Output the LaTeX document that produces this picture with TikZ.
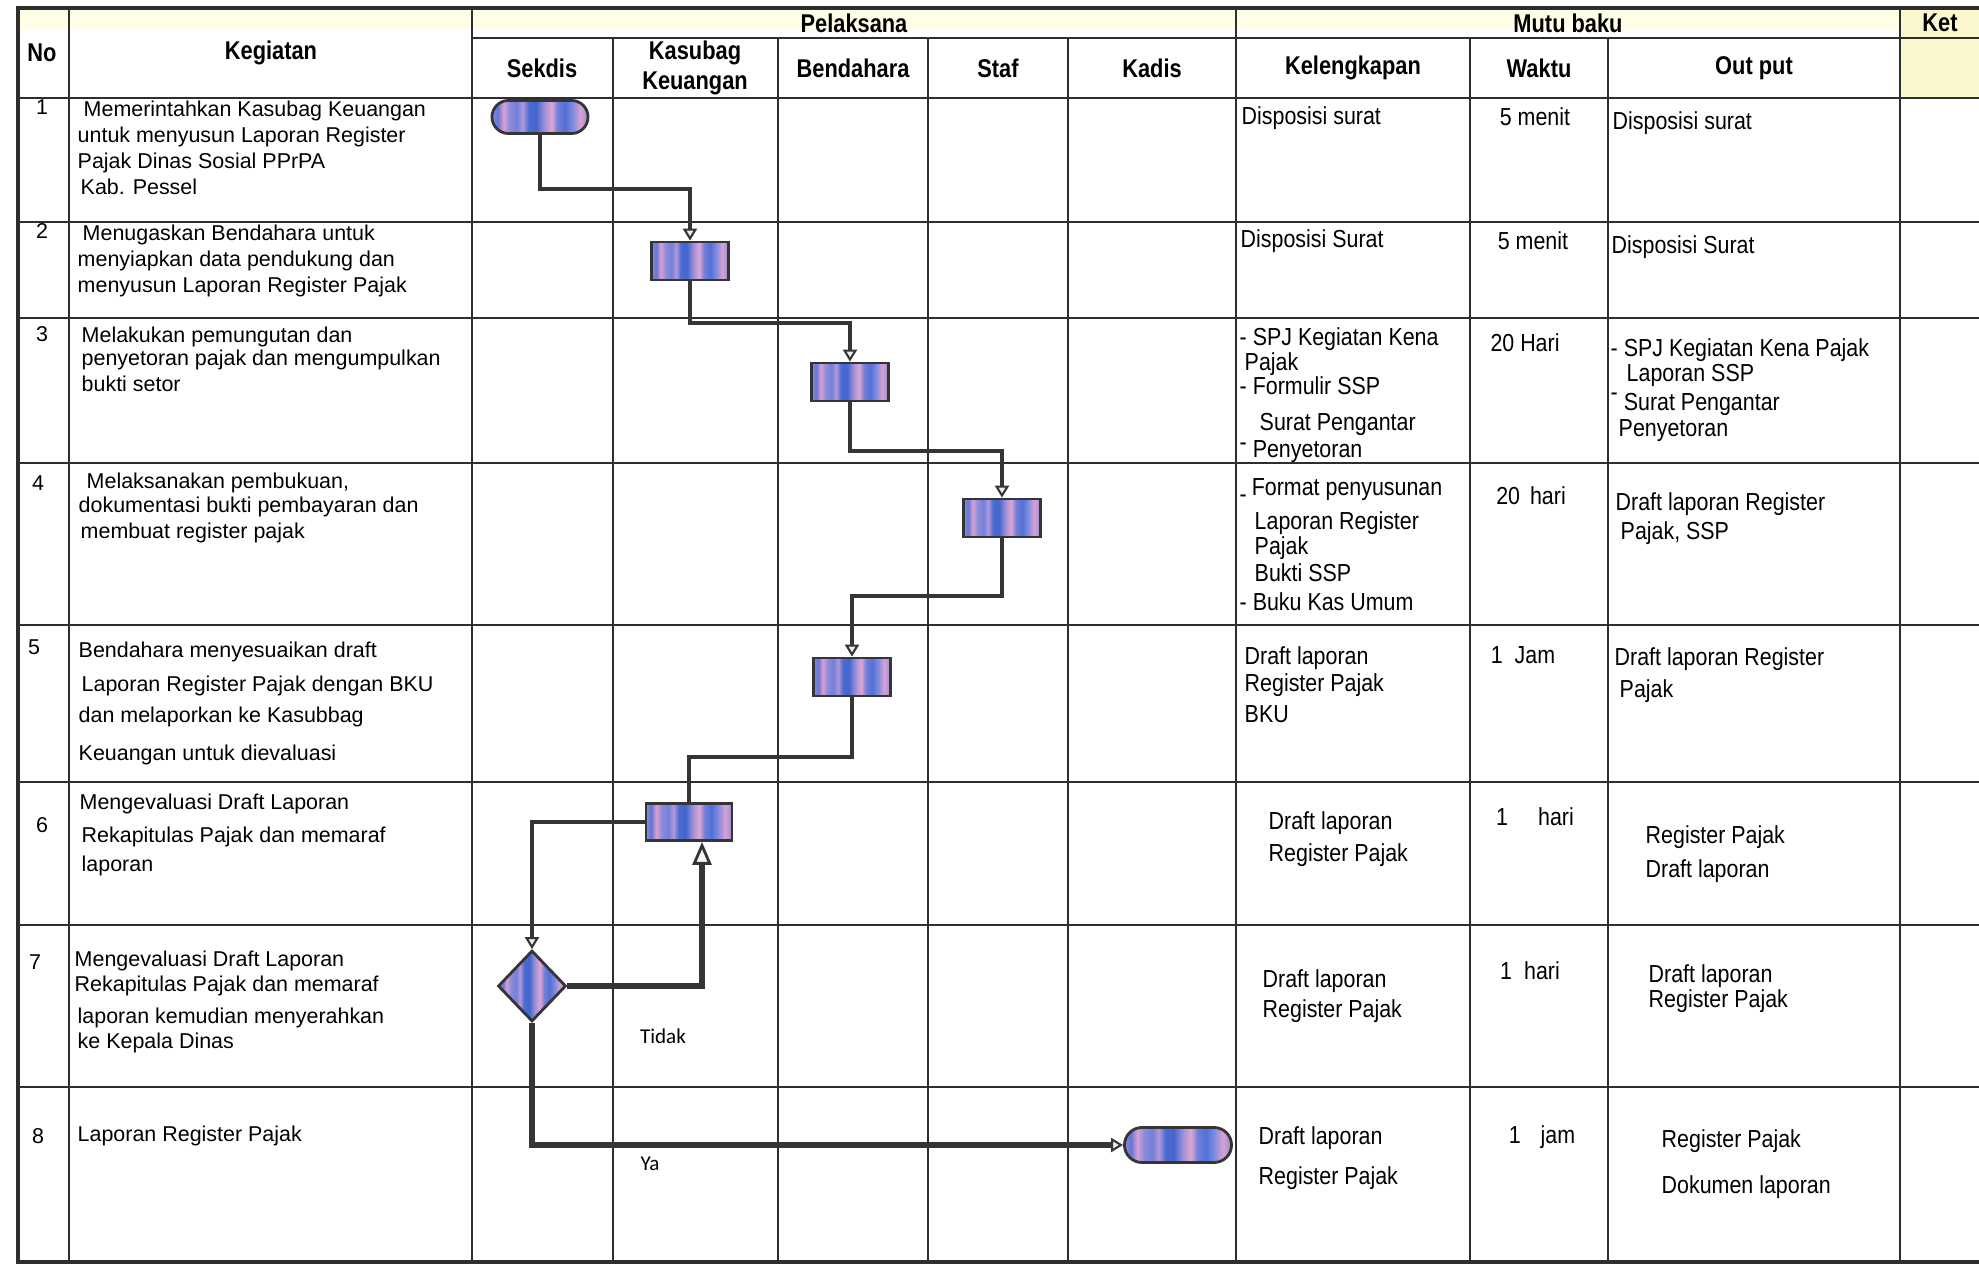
\documentclass[tikz,border=0pt]{standalone}
\usepackage{fontspec}
\setmainfont{Liberation Sans}
\newfontfamily\nfont[FakeStretch=0.87]{Liberation Sans}
\newfontfamily\hfont[FakeStretch=0.85]{Liberation Sans}
\newfontfamily\lfont{Carlito}
\usetikzlibrary{arrows.meta,shapes.geometric,shapes.misc}
\definecolor{gridcol}{HTML}{2E2E2E}
\definecolor{linecol}{HTML}{353535}
\definecolor{hdryellow}{HTML}{FBF7CF}
\pgfdeclarehorizontalshading{stripebar}{100bp}{rgb(0bp)=(.55,.55,.85);
  rgb(25bp)=(.55,.55,.85); rgb(28bp)=(.38,.46,.84); rgb(31bp)=(.86,.63,.82);
  rgb(34bp)=(.55,.55,.86); rgb(38bp)=(.45,.50,.85); rgb(41bp)=(.70,.60,.86);
  rgb(44bp)=(.30,.42,.82); rgb(48bp)=(.26,.40,.80); rgb(52bp)=(.60,.56,.85);
  rgb(56bp)=(.88,.65,.82); rgb(59bp)=(.45,.50,.85); rgb(63bp)=(.32,.44,.84);
  rgb(67bp)=(.50,.55,.88); rgb(71bp)=(.86,.63,.82); rgb(75bp)=(.55,.55,.85);
  rgb(100bp)=(.55,.55,.85)}

\tikzset{
  hdr/.style={font=\hfont\bfseries\fontsize{7.3}{8.4}\selectfont, inner sep=0, align=center},
  numtxt/.style={font=\fontsize{6.1}{7.4}\selectfont, inner sep=0},
  keg/.style={anchor=north west, inner sep=0, align=left, font=\fontsize{6.1}{7.4}\selectfont},
  cell/.style={anchor=north west, inner sep=0, align=left, font=\nfont\fontsize{7}{7.4}\selectfont},
  waktu/.style={inner sep=0, font=\nfont\fontsize{7}{7.4}\selectfont},
  proc/.style={draw=linecol, line width=0.8pt, shade, shading=stripebar,
    minimum width=0.77cm, minimum height=0.38cm, inner sep=0},
  term/.style={proc, rounded rectangle, minimum width=0.96cm, minimum height=0.33cm},
  dec/.style={proc, diamond, minimum width=0.68cm, minimum height=0.71cm},
  flow/.style={draw=linecol, line width=1.1pt,
    -{Triangle[fill=gray!15, length=3.4pt, width=4pt, line width=0.6pt]}},
  bigtip/.style={-{Triangle[fill=gray!8, length=6.5pt, width=5.4pt, line width=0.8pt]}},
  plain/.style={draw=linecol, line width=1.1pt},
  yesno/.style={font=\lfont\fontsize{6}{7}\selectfont, inner sep=0},
  grid line/.style={draw=gridcol, line width=0.8pt},
}

\begin{document}
\begin{tikzpicture}[x=0.01cm, y=-0.01cm]
  \useasboundingbox (0,0) rectangle (1979,1271);
  % header tint
  \fill[yellow!10] (18,8) rectangle (1900,30);
  \fill[hdryellow] (1900,8) rectangle (1979,98);

  % table grid
  \foreach \y in {98,222,318,463,625,782,925,1087}
    \draw[grid line] (18,\y) -- (1979,\y);
  \draw[grid line] (472,38) -- (1979,38);
  \foreach \x in {613,778,928,1068,1470,1608}
    \draw[grid line] (\x,38) -- (\x,1262);
  \foreach \x in {69,472,1236,1900}
    \draw[grid line] (\x,8) -- (\x,1262);
  \draw[draw=gridcol, line width=1.2pt] (1979,8) -- (18,8) -- (18,1262) -- (1979,1262);

  % headers
  \node[hdr] (hno) at (42,53) {No};
  \node[hdr] (hkeg) at (271,53) {Kegiatan};
  \node[hdr] (hpel) at (854,23) {Pelaksana};
  \node[hdr] (hmutu) at (1568,23) {Mutu baku};
  \node[hdr] (hket) at (1940,23) {Ket};
  \node[hdr] (hsek) at (542,68) {Sekdis};
  \node[hdr] (hkas) at (695,68) {Kasubag\\Keuangan};
  \node[hdr] (hben) at (853,68) {Bendahara};
  \node[hdr] (hsta) at (998,68) {Staf};
  \node[hdr] (hkad) at (1152,68) {Kadis};
  \node[hdr] (hkel) at (1353,68) {Kelengkapan};
  \node[hdr] (hwak) at (1539,68) {Waktu};
  \node[hdr] (hout) at (1754,68) {Out put};

  % row numbers
  \foreach \i/\x/\y in {1/42/107,2/42/231,3/42/334,4/38/483,5/34/647,6/42/825,7/35/962,8/38/1136}
    \node[numtxt] (n\i) at (\x,\y) {\i};

  % kegiatan
  \node[keg] (k1) at (77,100) {\hspace*{0.06cm}Memerintahkan Kasubag Keuangan\\untuk menyusun Laporan Register\\Pajak Dinas Sosial PPrPA\\\hspace*{0.03cm}Kab. Pessel};
  \node[keg] (k2) at (77,224) {\hspace*{0.05cm}Menugaskan Bendahara untuk\\menyiapkan data pendukung dan\\menyusun Laporan Register Pajak};
  \node[keg] (k3) at (81,326) {Melakukan pemungutan dan\\[-0.9pt]penyetoran pajak dan mengumpulkan\\bukti setor};
  \node[keg] (k4) at (78,472) {\hspace*{0.08cm}Melaksanakan pembukuan,\\[-0.6pt]dokumentasi bukti pembayaran dan\\\hspace*{0.02cm}membuat register pajak};
  \node[keg] (k5) at (78,641) {Bendahara menyesuaikan draft\\[2.3pt]\hspace*{0.03cm}Laporan Register Pajak dengan BKU\\[1.4pt]dan melaporkan ke Kasubbag\\[3.4pt]Keuangan untuk dievaluasi};
  \node[keg] (k6) at (79,793) {Mengevaluasi Draft Laporan\\[2pt]\hspace*{0.02cm}Rekapitulas Pajak dan memaraf\\[0.9pt]\hspace*{0.02cm}laporan};
  \node[keg] (k7) at (74,950) {Mengevaluasi Draft Laporan\\[-0.3pt]Rekapitulas Pajak dan memaraf\\[1.7pt]\hspace*{0.03cm}laporan kemudian menyerahkan\\[-0.3pt]\hspace*{0.03cm}ke Kepala Dinas};
  \node[keg] (k8) at (77,1125) {Laporan Register Pajak};

  % kelengkapan
  \node[cell] (l1) at (1241,106) {Disposisi surat};
  \node[cell] (l2) at (1240,229) {Disposisi Surat};
  \node[cell] (l3) at (1239,327) {- SPJ Kegiatan Kena\\[-0.3pt]\hspace*{0.05cm}Pajak\\[-0.5pt]- Formulir SSP\\[2.8pt]\hspace*{0.2cm}Surat Pengantar\\[0.3pt]\raisebox{2pt}{-} Penyetoran};
  \node[cell] (l4) at (1239,478) {\raisebox{-2pt}{-}\hspace*{0.05cm}Format penyusunan\\[2.3pt]\hspace*{0.15cm}Laporan Register\\[-0.3pt]\hspace*{0.15cm}Pajak\\[0.3pt]\hspace*{0.15cm}Bukti SSP\\[0.9pt]- Buku Kas Umum};
  \node[cell] (l5) at (1244,646) {Draft laporan\\[0.3pt]Register Pajak\\[1.4pt]BKU};
  \node[cell] (l6) at (1268,811) {Draft laporan\\[1.7pt]Register Pajak};
  \node[cell] (l7) at (1262,969) {Draft laporan\\[1.1pt]Register Pajak};
  \node[cell] (l8) at (1258,1126) {Draft laporan\\[4pt]Register Pajak};

  % waktu
  \foreach \i/\x/\y/\t in {1/1535/117/5 menit,2/1533/241/5 menit,3/1525/343/20 Hari,
      4/1531/496/20\hspace{0.1cm}hari,5/1523/655/1\hspace{0.12cm}Jam,6/1535/817/1\hspace{0.3cm}hari,
      7/1530/971/1\hspace{0.12cm}hari,8/1542/1137/1\hspace{0.2cm}jam}
    \node[waktu] (w\i) at (\x,\y) {\t};

  % output
  \node[cell] (o1) at (1612,111) {Disposisi surat};
  \node[cell] (o2) at (1611,235) {Disposisi Surat};
  \node[cell] (o3) at (1610,338) {- SPJ Kegiatan Kena Pajak\\[-0.3pt]\hspace*{0.16cm}Laporan SSP\\[0.9pt]\raisebox{3pt}{-}\hspace*{0.06cm}Surat Pengantar\\\hspace*{0.08cm}Penyetoran};
  \node[cell] (o4) at (1615,492) {Draft laporan Register\\[0.9pt]\hspace*{0.05cm}Pajak, SSP};
  \node[cell] (o5) at (1614,647) {Draft laporan Register\\[1.7pt]\hspace*{0.05cm}Pajak};
  \node[cell] (o6) at (1645,825) {Register Pajak\\[2.3pt]Draft laporan};
  \node[cell] (o7) at (1648,964) {Draft laporan\\[-0.3pt]Register Pajak};
  \node[cell] (o8) at (1661,1129) {Register Pajak\\[5.7pt]Dokumen laporan};

  % flow symbols
  \node[term] (t1) at (540,117) {};
  \node[proc] (p2) at (690,261) {};
  \node[proc] (p3) at (850,382) {};
  \node[proc] (p4) at (1002,518) {};
  \node[proc] (p5) at (852,677) {};
  \node[proc, minimum width=0.86cm, minimum height=0.37cm] (p6) at (689,822) {};
  \node[dec] (d7) at (532,986) {};
  \node[term, minimum width=1.07cm, minimum height=0.35cm] (t8) at (1178,1145) {};

  % bends
  \coordinate (j1) at (0,189);
  \coordinate (j2) at (0,323);
  \coordinate (j3) at (0,451);
  \coordinate (j4) at (0,596);
  \coordinate (j5) at (0,757);
  \coordinate (j6) at (702,0);

  % connectors
  \draw[flow] (t1.south) -- (t1.south |- j1) -| (p2.north);
  \draw[flow] (p2.south) -- (p2.south |- j2) -| (p3.north);
  \draw[flow] (p3.south) -- (p3.south |- j3) -| (p4.north);
  \draw[flow] (p4.south) -- (p4.south |- j4) -| (p5.north);
  \draw[plain] (p5.south) -- (p5.south |- j5) -| (p6.north);
  \draw[flow] (p6.west) -| (d7.north);
  \draw[flow, bigtip, line width=1.5pt] (d7.east) -| (j6 |- p6.south);
  \draw[flow, line width=1.6pt] (d7.south) |- (t8.west);
  \node[yesno] (tidak) at (663,1036) {Tidak};
  \node[yesno] (ya) at (650,1164) {Ya};
\end{tikzpicture}
\end{document}
